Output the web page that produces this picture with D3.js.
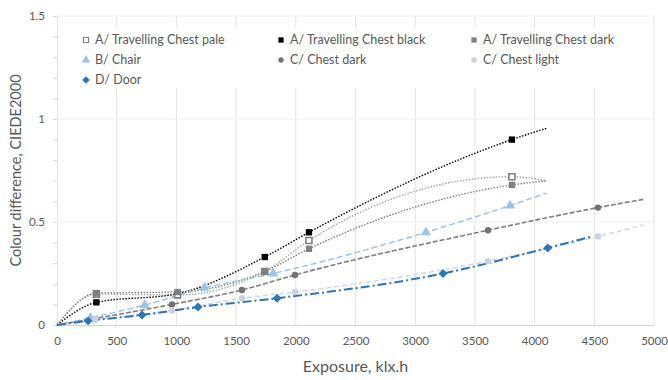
<!DOCTYPE html>
<html>
<head>
<meta charset="utf-8">
<script src="https://cdn.jsdelivr.net/npm/d3@7"></script>
<style>
  body { margin: 0; background: #fff; }
  svg text { font-family: Lato, "Open Sans", sans-serif; fill: #595959; }
</style>
</head>
<body>
<svg id="chart" width="668" height="380"></svg>
<script>

// Series values (exposure klx.h, CIEDE2000)
const paleX = [330, 1740, 1010, 2110, 3810];
const paleY = [0.15, 0.26, 0.146, 0.41, 0.72];
const blackX = [330, 1740, 2110, 3810];
const blackY = [0.11, 0.33, 0.45, 0.90];
const darkX = [330, 1010, 1740, 2110, 3810];
const darkY = [0.155, 0.16, 0.26, 0.37, 0.68];
const chairX = [280, 735, 1235, 1810, 3090, 3795];
const chairY = [0.035, 0.097, 0.18, 0.25, 0.45, 0.58];
const chestDarkX = [963, 1549, 1993, 3610, 4531];
const chestDarkY = [0.10, 0.17, 0.243, 0.46, 0.57];
const chestLightX = [320, 963, 1549, 1993, 3610, 4531];
const chestLightY = [0.025, 0.07, 0.13, 0.16, 0.31, 0.43];
const doorX = [260, 712, 1181, 1843, 3233, 4110];
const doorY = [0.02, 0.049, 0.087, 0.13, 0.25, 0.374];

// fitted lines: extra points the curve passes through without a marker
const paleVia = [[4100, 0.70]];
const blackVia = [[1010, 0.152], [4100, 0.955]];
const darkVia = [[4100, 0.70]];
const chairVia = [[4100, 0.64]];
const chestDarkVia = [[4910, 0.61]];
const chestLightVia = [[4910, 0.485]];
const doorVia = [[4480, 0.43]];

const xTicks = [0, 500, 1000, 1500, 2000, 2500, 3000, 3500, 4000, 4500, 5000];
const yTicks = [0, 0.5, 1, 1.5];

const diamond = { draw(ctx, size) { const r = Math.sqrt(size / 2); ctx.moveTo(0, -r); ctx.lineTo(r, 0); ctx.lineTo(0, r); ctx.lineTo(-r, 0); ctx.closePath(); } };

const series = [
  { label: "A/ Travelling Chest pale", xs: paleX, ys: paleY, via: paleVia, symbol: d3.symbolSquare, size: 36, fill: "#fff", stroke: "#7f7f7f", line: "#a6a6a6", dash: "1.5,1.5", lw: 1.4 },
  { label: "A/ Travelling Chest black", xs: blackX, ys: blackY, via: blackVia, symbol: d3.symbolSquare, size: 40, fill: "#000", stroke: "none", line: "#000", dash: "1.5,1.5", lw: 1.4 },
  { label: "A/ Travelling Chest dark", xs: darkX, ys: darkY, via: darkVia, symbol: d3.symbolSquare, size: 40, fill: "#7f7f7f", stroke: "none", line: "#7f7f7f", dash: "1.5,1.5", lw: 1.4 },
  { label: "B/ Chair", xs: chairX, ys: chairY, via: chairVia, symbol: d3.symbolTriangle, size: 45, fill: "#9dc3e6", stroke: "none", line: "#9dc3e6", dash: "6,3", lw: 1.5 },
  { label: "C/ Chest dark", xs: chestDarkX, ys: chestDarkY, via: chestDarkVia, symbol: d3.symbolCircle, size: 32, fill: "#767171", stroke: "none", line: "#7f7f7f", dash: "5,2", lw: 1.6 },
  { label: "C/ Chest light", xs: chestLightX, ys: chestLightY, via: chestLightVia, symbol: d3.symbolCircle, size: 32, fill: "#c9d2de", stroke: "none", line: "#d0d8e3", dash: "5,3", lw: 1.5 },
  { label: "D/ Door", xs: doorX, ys: doorY, via: doorVia, symbol: diamond, size: 40, fill: "#2e75b6", stroke: "none", line: "#2e75b6", dash: "9,3,2,3", lw: 2 }
];

const svg = d3.select("#chart");

const x = d3.scaleLinear().domain([0, 5000]).range([57, 654]);
const y = d3.scaleLinear().domain([0, 1.5]).range([325, 16]);

// Grid
svg.append("g")
  .selectAll("line")
  .data(xTicks.filter(d => d > 0))
  .join("line")
    .attr("x1", d => x(d)).attr("x2", d => x(d))
    .attr("y1", y(1.5)).attr("y2", y(0))
    .attr("stroke", "#e3e3e3").attr("stroke-width", 1);

svg.append("g")
  .selectAll("line")
  .data(yTicks.filter(d => d > 0))
  .join("line")
    .attr("x1", x(0)).attr("x2", x(5000))
    .attr("y1", d => y(d)).attr("y2", d => y(d))
    .attr("stroke", "#eeeeee").attr("stroke-width", 1);

// Axes
const xAxis = svg.append("g")
  .attr("transform", `translate(0,${y(0)})`)
  .call(d3.axisBottom(x).tickValues(xTicks).tickSize(0).tickPadding(12).tickFormat(d3.format("d")));
xAxis.select(".domain").attr("stroke", "#d0d0d0");
xAxis.selectAll("text").style("font-size", "11.5px");

const yAxis = svg.append("g")
  .attr("transform", `translate(${x(0)},0)`)
  .call(d3.axisLeft(y).tickValues(d3.range(0, 1.51, 0.1)).tickSize(4).tickPadding(8)
    .tickFormat(d => yTicks.some(t => Math.abs(t - d) < 1e-6) ? d3.format("~g")(d) : ""));
yAxis.select(".domain").attr("stroke", "#e6e6e6");
yAxis.selectAll(".tick line").attr("stroke", "#d9d9d9");
yAxis.selectAll("text").style("font-size", "11.5px");

// Axis titles
svg.append("text")
  .attr("x", (x(0) + x(5000)) / 2)
  .attr("y", 372)
  .attr("text-anchor", "middle")
  .style("font-size", "16px")
  .text("Exposure, klx.h");

svg.append("text")
  .attr("transform", `translate(21,${y(0.75)}) rotate(-90)`)
  .attr("text-anchor", "middle")
  .style("font-size", "14.5px")
  .text("Colour difference, CIEDE2000");

// Lines and markers
const line = d3.line()
  .x(d => x(d[0]))
  .y(d => y(d[1]))
  .curve(d3.curveMonotoneX);

series.forEach(s => {
  const pts = s.xs.map((v, i) => [v, s.ys[i]]);
  const path = [[0, 0], ...pts, ...s.via].sort((a, b) => a[0] - b[0]);
  svg.append("path")
    .attr("d", line(path))
    .attr("fill", "none")
    .attr("stroke", s.line)
    .attr("stroke-width", s.lw)
    .attr("stroke-dasharray", s.dash);
});

series.forEach(s => {
  const pts = s.xs.map((v, i) => [v, s.ys[i]]);
  svg.append("g")
    .selectAll("path")
    .data(pts)
    .join("path")
      .attr("transform", d => `translate(${x(d[0])},${y(d[1])})`)
      .attr("d", d3.symbol().type(s.symbol).size(s.size))
      .attr("fill", s.fill)
      .attr("stroke", s.stroke)
      .attr("stroke-width", 1.6);
});

// Legend
const legend = svg.append("g");
legend.append("rect")
  .attr("x", 72).attr("y", 28).attr("width", 572).attr("height", 60)
  .attr("fill", "#fff");

const colX = [86, 281, 474];
const rowY = [40, 60, 80];
const items = legend.selectAll(".item")
  .data(series)
  .join("g")
    .attr("class", "item")
    .attr("transform", (d, i) => `translate(${colX[i % 3]},${rowY[Math.floor(i / 3)]})`);

items.append("path")
  .attr("d", d => d3.symbol().type(d.symbol).size(d.size * 0.7)())
  .attr("fill", d => d.fill)
  .attr("stroke", d => d.stroke)
  .attr("stroke-width", 1.2);

items.append("text")
  .attr("x", 9)
  .attr("dy", "0.35em")
  .style("font-size", "12.5px")
  .text(d => d.label);

</script>
</body>
</html>
